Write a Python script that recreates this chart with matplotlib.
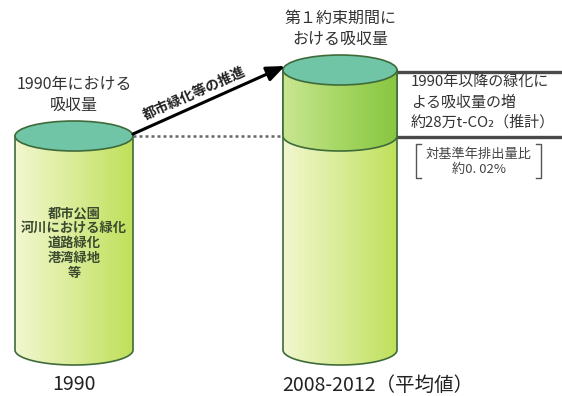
import numpy as np
import matplotlib
matplotlib.use("Agg")
import matplotlib.pyplot as plt
from matplotlib.patches import Ellipse, PathPatch
from matplotlib.path import Path

plt.rcParams['font.family'] = ['Noto Sans CJK JP', 'DejaVu Sans']

# --- data ---------------------------------------------------------------
periods = ["1990", "2008-2012（平均値）"]
base_level = [214, 214]        # absorption level reached in 1990 (chart units)
added_level = [0, 66]          # increase from greening since 1990
body_note = ["都市公園", "河川における緑化", "道路緑化", "港湾緑地", "等"]
top_titles = ["1990年における\n吸収量", "第１約束期間に\nおける吸収量"]
arrow_label = "都市緑化等の推進"
increase_text = ["1990年以降の緑化に", "よる吸収量の増", "約28万t-CO₂（推計）"]
ratio_text = ["対基準年排出量比", "約0. 02%"]

# --- layout -------------------------------------------------------------
W, H = 562, 396
fig = plt.figure(figsize=(W / 100, H / 100), dpi=100)
ax = fig.add_axes([0, 0, 1, 1])
ax.set_xlim(0, W)
ax.set_ylim(H, 0)
ax.axis("off")

floor_y = 350
centers = [74, 340]
half_w = [59, 57]
label_x = [74, 378]
ry = 15
edge = "#3f6b3a"

light_grad = ["#f2f7cf", "#d9ec96", "#bfe05a"]
dark_grad = ["#c9e692", "#a6d764", "#88c640"]
lid_color = "#6fc5a5"


def gradient_fill(patch, x0, x1, y0, y1, colors):
    cmap = matplotlib.colors.LinearSegmentedColormap.from_list("g", colors)
    grad = np.linspace(0, 1, 256).reshape(1, -1)
    im = ax.imshow(grad, cmap=cmap, extent=[x0, x1, y1, y0], aspect="auto",
                   zorder=patch.get_zorder() - 0.1, interpolation="bicubic")
    im.set_clip_path(patch)


def body_path(cx, hw, y_top, y_bot):
    # front face: rectangle down to y_bot closed by the lower half of an ellipse
    t = np.linspace(0, np.pi, 60)
    arc_x = cx + hw * np.cos(t)
    arc_y = y_bot + ry * np.sin(t)
    verts = [(cx - hw, y_top), (cx + hw, y_top)]
    verts += list(zip(arc_x, arc_y))
    verts += [(cx - hw, y_top)]
    codes = [Path.MOVETO] + [Path.LINETO] * (len(verts) - 2) + [Path.CLOSEPOLY]
    return Path(verts, codes)


for i, cx in enumerate(centers):
    hw = half_w[i]
    y_base = floor_y - base_level[i]
    y_top = y_base - added_level[i]

    lower = PathPatch(body_path(cx, hw, y_top, floor_y), facecolor="none",
                      edgecolor=edge, lw=1.2, zorder=2)
    ax.add_patch(lower)
    gradient_fill(lower, cx - hw, cx + hw, y_top, floor_y + ry, light_grad)

    if added_level[i] > 0:
        upper = PathPatch(body_path(cx, hw, y_top, y_base), facecolor="none",
                          edgecolor=edge, lw=1.2, zorder=3)
        ax.add_patch(upper)
        gradient_fill(upper, cx - hw, cx + hw, y_top, y_base + ry, dark_grad)

    ax.add_patch(Ellipse((cx, y_top), 2 * hw, 2 * ry, facecolor=lid_color,
                         edgecolor=edge, lw=1.2, zorder=4))

    ax.text(label_x[i], 385, periods[i], ha="center", va="center", fontsize=14,
            color="#222222", zorder=5)
    ax.text(cx, y_top - 41, top_titles[i], ha="center", va="center",
            fontsize=11.5, color="#333333", linespacing=1.35, zorder=5)

# notes inside the 1990 cylinder
for k, line in enumerate(body_note):
    ax.text(centers[0], 213 + 15 * k, line, ha="center", va="center",
            fontsize=9.5, color="#3c4a30", fontweight="bold", zorder=5)

# dotted reference at the 1990 level
y_1990 = floor_y - base_level[0]
ax.plot([centers[0] + half_w[0], centers[1] - half_w[1]], [y_1990, y_1990],
        ls=(0, (1.2, 1.2)), color="#666666", lw=1.8, zorder=1)

# arrow toward the later period
y_2010 = floor_y - base_level[1] - added_level[1]
x_a0, y_a0 = centers[0] + half_w[0], y_1990 - 2
x_a1, y_a1 = centers[1] - half_w[1] + 2, y_2010 - 4
ax.annotate("", xy=(x_a1, y_a1), xytext=(x_a0, y_a0),
            arrowprops=dict(arrowstyle="-|>,head_length=1.1,head_width=0.45",
                            color="black", lw=2.2, shrinkA=0, shrinkB=0),
            zorder=6)
ang = np.degrees(np.arctan2(y_a0 - y_a1, x_a1 - x_a0))
ax.text(194, 94, arrow_label, rotation=ang, rotation_mode="anchor",
        ha="center", va="center", fontsize=10, fontweight="bold",
        color="#222222", zorder=6)

# lines marking the added absorption
x_r = centers[1] + half_w[1]
for yy in (y_2010 + 2, y_1990 + 1):
    ax.plot([x_r, W], [yy, yy], color="#4a4a4a", lw=2.4, zorder=1)

for k, line in enumerate(increase_text):
    ax.text(411, 83 + 19.5 * k, line, ha="left", va="center", fontsize=10.8,
            color="#333333", zorder=5)

# bracketed ratio note
bx0, bx1, by0, by1 = 416, 541, 144, 178
for xs, sgn in ((bx0, 1), (bx1, -1)):
    ax.plot([xs + 5 * sgn, xs, xs, xs + 5 * sgn], [by0, by0, by1, by1],
            color="#555555", lw=1.0, zorder=5)
ax.text((bx0 + bx1) / 2, 154, ratio_text[0], ha="center", va="center",
        fontsize=9.5, color="#444444", zorder=5)
ax.text((bx0 + bx1) / 2, 169, ratio_text[1], ha="center", va="center",
        fontsize=9.5, color="#444444", zorder=5)

fig.savefig("out.png", dpi=100, facecolor="white")
